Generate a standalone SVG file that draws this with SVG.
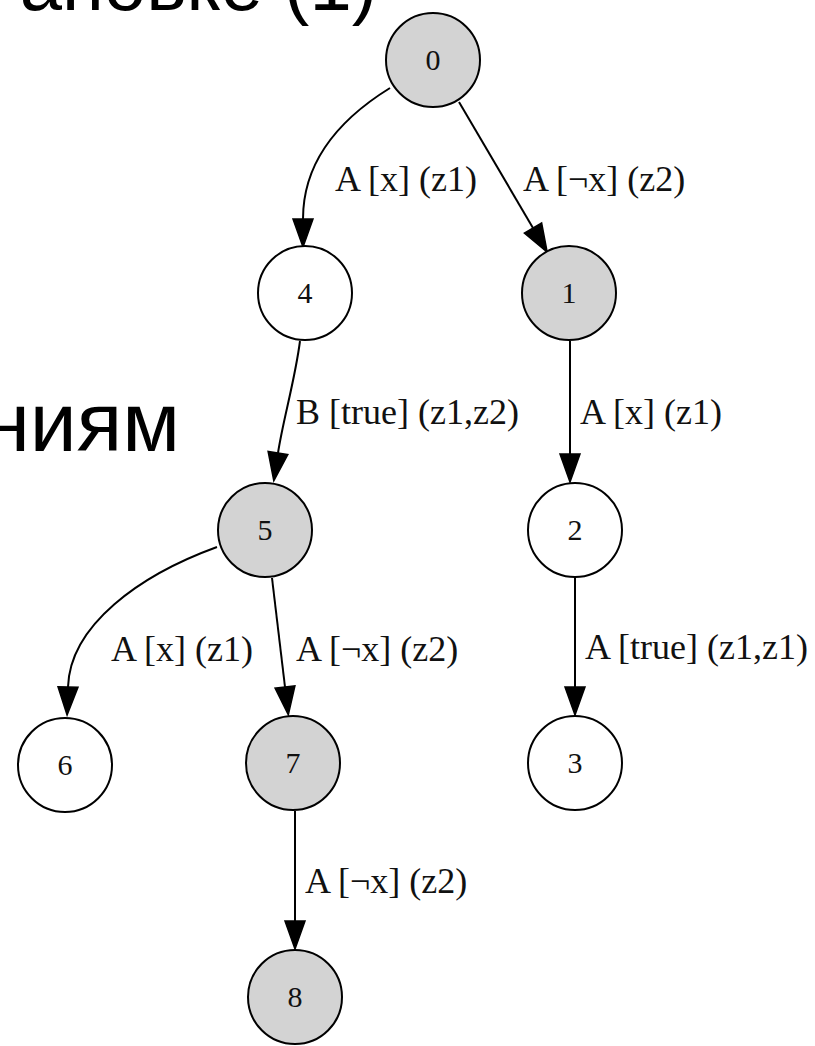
<svg xmlns="http://www.w3.org/2000/svg" width="815" height="1046" viewBox="0 0 815 1046">
<style>
.n circle{stroke:#000;stroke-width:2}
.g circle{fill:#d3d3d3}
.w circle{fill:#fff}
.n text{font-family:"Liberation Serif",serif;font-size:30px;text-anchor:middle;fill:#111}
.e path{fill:none;stroke:#000;stroke-width:2}
.lbl{font-family:"Liberation Serif",serif;font-size:36px;fill:#111}
.title{font-family:"Liberation Sans",sans-serif;fill:#000}
</style>
<defs>
<marker id="ah" markerUnits="userSpaceOnUse" markerWidth="28" markerHeight="22" refX="0" refY="11" orient="auto" overflow="visible">
<path d="M0,1 L28,11 L0,21 z" fill="#000" stroke="#000" stroke-width="1.5"/>
</marker>
</defs>
<rect width="815" height="1046" fill="#fff"/>
<text class="title" x="377" y="10" font-size="76" text-anchor="end">ановке (1)</text>
<text class="title" x="180" y="451" font-size="84" text-anchor="end">ниям</text>
<g id="connectors" class="e">
<path d="M390,88 C335,122 303,165 303,219" marker-end="url(#ah)"/>
<path d="M459,102 L533,228" marker-end="url(#ah)"/>
<path d="M300,341 C295,380 283,420 278,453" marker-end="url(#ah)"/>
<path d="M570,341 L570,454" marker-end="url(#ah)"/>
<path d="M217,547 C140,575 70,625 68,687" marker-end="url(#ah)"/>
<path d="M272,578 L285,687" marker-end="url(#ah)"/>
<path d="M575,578 L575,687" marker-end="url(#ah)"/>
<path d="M295,811 L295,921" marker-end="url(#ah)"/>
<text class="lbl" x="335" y="191">A [x] (z1)</text>
<text class="lbl" x="523" y="191">A [¬x] (z2)</text>
<text class="lbl" x="296" y="424">B [true] (z1,z2)</text>
<text class="lbl" x="580" y="424">A [x] (z1)</text>
<text class="lbl" x="111" y="661">A [x] (z1)</text>
<text class="lbl" x="296" y="661">A [¬x] (z2)</text>
<text class="lbl" x="585" y="659">A [true] (z1,z1)</text>
<text class="lbl" x="305" y="893">A [¬x] (z2)</text>
</g>
<g id="node0" class="n g"><circle cx="433" cy="60" r="47"/><text x="433" y="70">0</text></g>
<g id="node4" class="n w"><circle cx="305" cy="293" r="47"/><text x="305" y="303">4</text></g>
<g id="node1" class="n g"><circle cx="569" cy="293" r="47"/><text x="569" y="303">1</text></g>
<g id="node5" class="n g"><circle cx="265" cy="530" r="47"/><text x="265" y="540">5</text></g>
<g id="node2" class="n w"><circle cx="575" cy="530" r="47"/><text x="575" y="540">2</text></g>
<g id="node6" class="n w"><circle cx="65" cy="765" r="47"/><text x="65" y="775">6</text></g>
<g id="node7" class="n g"><circle cx="293" cy="763" r="47"/><text x="293" y="773">7</text></g>
<g id="node3" class="n w"><circle cx="575" cy="763" r="47"/><text x="575" y="773">3</text></g>
<g id="node8" class="n g"><circle cx="295" cy="997" r="47"/><text x="295" y="1007">8</text></g>
</svg>
